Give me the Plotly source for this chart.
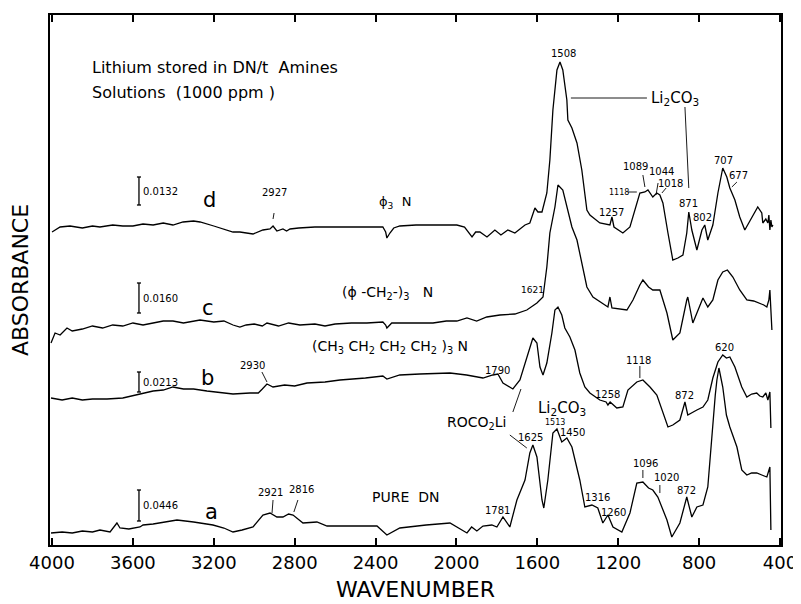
import plotly.graph_objects as go

# ---- data (y in arbitrary stacked absorbance units) ----
d_wn = [4000, 3985, 3960, 3911, 3850, 3800, 3763, 3700, 3650, 3600, 3550, 3500, 3450, 3402, 3352, 3300, 3268,
        3200, 3150, 3105, 3071, 3006, 2957, 2922, 2907, 2888, 2858, 2840, 2823, 2780, 2700, 2600, 2500, 2400,
        2364, 2350, 2344, 2329, 2310, 2280, 2200, 2100, 1998, 1960, 1935, 1923, 1905, 1884, 1849, 1810, 1780,
        1746, 1711, 1661, 1637, 1612, 1597, 1577, 1553, 1538, 1523, 1503, 1488, 1474, 1454, 1449, 1429, 1404,
        1380, 1355, 1340, 1291, 1241, 1231, 1221, 1177, 1142, 1117, 1093, 1068, 1053, 1029, 1009, 994, 979,
        954, 930, 905, 880, 861, 851, 836, 811, 786, 772, 757, 732, 707, 683, 663, 648, 623, 599, 574, 539,
        510, 490, 485, 470, 460, 455, 450, 445, 440, 435]
d_abs = [313, 315, 318, 319, 317, 319, 318, 320, 319, 319, 321, 320, 322, 320, 323, 324, 323,
         319, 316, 313, 313, 311, 315, 316, 319, 314, 316, 314, 316, 317, 318, 318, 318, 318,
         318, 313, 307, 312, 317, 319, 320, 320, 320, 318, 312, 308, 313, 313, 308, 315, 310,
         315, 312, 320, 322, 337, 333, 333, 352, 385, 435, 475, 483, 475, 445, 425, 417, 402,
         375, 335, 330, 322, 320, 328, 318, 312, 318, 335, 352, 353, 355, 348, 352, 350, 342,
         312, 285, 287, 290, 312, 333, 315, 295, 315, 320, 305, 320, 352, 377, 368, 357, 345, 328, 315, 328,
         338, 332, 322, 326, 322, 330, 315, 325, 318, 320]

c_wn = [4005, 3995, 3985, 3960, 3926, 3900, 3850, 3800, 3750, 3700, 3650, 3600, 3550, 3500, 3450, 3402, 3350,
        3268, 3200, 3150, 3105, 3071, 3040, 3000, 2960, 2937, 2880, 2830, 2774, 2700, 2650, 2600, 2520, 2443,
        2364, 2350, 2344, 2320, 2280, 2200, 2116, 2050, 1998, 1948, 1900, 1850, 1785, 1711, 1652, 1602, 1587,
        1572, 1553, 1538, 1513, 1498, 1474, 1454, 1429, 1404, 1380, 1355, 1325, 1291, 1251, 1241, 1231, 1157,
        1127, 1093, 1078, 1050, 1029, 994, 959, 930, 895, 861, 856, 831, 806, 781, 757, 732, 707, 683, 660,
        648, 633, 599, 564, 530, 500, 480, 465, 455, 450, 445, 440]
c_abs = [202, 208, 212, 210, 217, 214, 216, 219, 217, 220, 219, 222, 220, 222, 224, 224, 222,
         225, 223, 224, 220, 218, 220, 221, 219, 222, 219, 222, 220, 221, 219, 221, 222, 222,
         223, 220, 217, 222, 222, 222, 222, 224, 224, 227, 224, 228, 230, 231, 235, 242, 245,
         248, 278, 312, 338, 360, 355, 338, 318, 305, 282, 258, 248, 243, 238, 248, 237, 235,
         245, 260, 265, 258, 255, 255, 232, 205, 212, 245, 248, 222, 235, 247, 238, 245, 265, 273, 275,
         272, 268, 255, 245, 244, 242, 240, 238, 245, 255, 225, 215]

b_wn = [4005, 3950, 3900, 3850, 3800, 3728, 3650, 3580, 3500, 3450, 3402, 3350, 3300, 3234, 3150, 3105, 3021,
        2980, 2960, 2937, 2907, 2850, 2800, 2739, 2650, 2576, 2450, 2364, 2344, 2280, 2181, 2032, 1950, 1869,
        1820, 1795, 1770, 1745, 1721, 1686, 1652, 1622, 1602, 1587, 1572, 1553, 1528, 1513, 1498, 1479, 1464,
        1439, 1414, 1390, 1365, 1340, 1291, 1260, 1251, 1240, 1207, 1177, 1152, 1108, 1078, 1043, 1009, 984,
        954, 930, 895, 870, 856, 811, 781, 757, 732, 707, 683, 665, 648, 623, 589, 564, 540, 515, 500, 485,
        470, 460, 450, 445]
b_abs = [147, 145, 147, 145, 146, 146, 147, 150, 154, 155, 158, 156, 156, 154, 152, 151, 152,
         152, 156, 161, 158, 160, 159, 162, 163, 165, 167, 169, 166, 170, 171, 172, 170, 167,
         170, 171, 162, 159, 156, 165, 188, 207, 202, 178, 170, 182, 212, 235, 238, 230, 217,
         208, 195, 172, 158, 152, 145, 143, 140, 143, 137, 138, 155, 163, 165, 158, 150, 135,
         118, 120, 125, 143, 130, 135, 138, 145, 167, 183, 190, 187, 188, 178, 158, 148, 151, 152, 149, 148,
         152, 145, 153, 117]

a_wn = [4005, 3950, 3900, 3850, 3800, 3763, 3713, 3679, 3664, 3620, 3565, 3550, 3500, 3450, 3382, 3300, 3204,
        3150, 3105, 3060, 3006, 2957, 2922, 2888, 2858, 2830, 2808, 2759, 2690, 2640, 2550, 2450, 2393, 2344,
        2280, 2150, 2032, 1948, 1925, 1899, 1869, 1825, 1800, 1770, 1736, 1701, 1661, 1637, 1622, 1602, 1577,
        1568, 1548, 1523, 1503, 1479, 1454, 1429, 1390, 1365, 1330, 1301, 1276, 1251, 1226, 1182, 1142, 1108,
        1078, 1050, 1029, 1004, 959, 935, 895, 861, 836, 811, 781, 757, 745, 732, 720, 712, 702, 683, 665,
        648, 613, 589, 564, 540, 515, 490, 465, 450, 445]
a_abs = [12, 13, 12, 14, 13, 15, 13, 22, 17, 16, 18, 20, 21, 23, 25, 23, 20,
         17, 13, 15, 18, 30, 32, 28, 28, 31, 30, 22, 23, 19, 19, 19, 19, 10,
         17, 20, 22, 12, 18, 14, 19, 20, 18, 28, 18, 45, 65, 92, 100, 88, 45,
         37, 65, 112, 116, 103, 107, 98, 65, 38, 40, 37, 22, 30, 18, 13, 32, 62,
         63, 57, 55, 48, 25, 8, 22, 48, 28, 38, 40, 58, 90, 125, 150, 165, 177, 158, 130,
         118, 98, 75, 70, 72, 72, 70, 68, 78, 15]

tick_vals = [4000, 3600, 3200, 2800, 2400, 2000, 1600, 1200, 800, 400]
tick_text = ["4000", "3600", "3200", "2800", "2400", "2000", "1600", "1200", "800", "400"]

# scale bars: (wavenumber, low, high, label)
scale_bars = [(3570, 340, 368, "0.0132"), (3570, 232, 262, "0.0160"),
              (3570, 153, 173, "0.0213"), (3570, 24, 55, "0.0446")]

# peak labels: (text, wavenumber, y, size)
peak_labels = [
    ("1508", 1469, 492, 10), ("1089", 1113, 379, 10), ("1044", 984, 374, 10), ("1018", 940, 362, 10),
    ("1118", 1195, 353, 8), ("1257", 1231, 333, 10), ("871", 851, 342, 10), ("802", 781, 328, 10),
    ("707", 678, 385, 10), ("677", 604, 370, 10), ("2927", 2902, 353, 10),
    ("1621", 1622, 255, 9),
    ("2930", 3011, 180, 10), ("1790", 1795, 175, 10), ("1258", 1251, 151, 10), ("1118", 1098, 185, 10),
    ("872", 870, 150, 10), ("620", 673, 198, 10),
    ("1625", 1632, 108, 10), ("1513", 1513, 123, 8), ("1450", 1424, 113, 10), ("1316", 1301, 48, 10),
    ("1260", 1222, 33, 10), ("1096", 1063, 82, 10), ("1020", 959, 68, 10), ("872", 861, 55, 10),
    ("1781", 1795, 35, 10), ("2921", 2922, 53, 10), ("2816", 2764, 56, 10),
]

# leader lines: (wn0, y0, wn1, y1)
leaders = [
    (1434, 447, 1058, 447), (870, 438, 851, 357),
    (1078, 370, 1068, 358), (1003, 362, 1013, 350), (963, 357, 984, 352), (1152, 353, 1108, 353),
    (613, 363, 638, 358), (2902, 332, 2907, 326),
    (2962, 173, 2937, 163), (1093, 179, 1093, 167),
    (1721, 133, 1681, 156), (1736, 110, 1652, 97),
    (1078, 75, 1078, 67), (994, 60, 994, 52),
    (2907, 45, 2912, 32), (2784, 45, 2804, 33),
]

FONT = "DejaVu Sans"

fig = go.Figure()
for wn, ab in [(d_wn, d_abs), (c_wn, c_abs), (b_wn, b_abs), (a_wn, a_abs)]:
    fig.add_trace(go.Scatter(x=wn, y=ab, mode="lines", line=dict(color="black", width=1.3),
                             showlegend=False, hoverinfo="skip"))

shapes = []
for w0, y0, w1, y1 in leaders:
    shapes.append(dict(type="line", xref="x", yref="y", x0=w0, y0=y0, x1=w1, y1=y1,
                       line=dict(color="black", width=0.9)))
anns = []
for w, lo, hi, lab in scale_bars:
    shapes.append(dict(type="line", xref="x", yref="y", x0=w, y0=lo, x1=w, y1=hi,
                       line=dict(color="black", width=1.3)))
    for yy in (lo, hi):
        shapes.append(dict(type="line", xref="x", yref="y", x0=w - 10, y0=yy, x1=w + 10, y1=yy,
                           line=dict(color="black", width=1.3)))
    anns.append(dict(x=w - 12, y=(lo + hi) / 2, text=lab, xanchor="left", showarrow=False,
                     font=dict(size=10, family=FONT, color="black")))

for t, w, y, s in peak_labels:
    anns.append(dict(x=w, y=y, text=t, showarrow=False, font=dict(size=s, family=FONT, color="black")))

big = [
    ("Lithium stored in DN/t  Amines", 3812, 478, 16, "left"),
    ("Solutions  (1000 ppm )", 3812, 453, 16, "left"),
    ("Li<sub>2</sub>CO<sub>3</sub>", 920, 447, 15, "center"),
    ("d", 3219, 345, 21, "center"),
    ("ϕ<sub>3</sub>  N", 2304, 343, 13, "center"),
    ("c", 3229, 237, 21, "center"),
    ("(ϕ -CH<sub>2</sub>-)<sub>3</sub>   N", 2339, 252, 14, "center"),
    ("(CH<sub>3</sub> CH<sub>2</sub> CH<sub>2</sub> CH<sub>2</sub> )<sub>3</sub> N", 2329, 198, 14, "center"),
    ("b", 3229, 167, 21, "center"),
    ("ROCO<sub>2</sub>Li", 1899, 122, 14, "center"),
    ("Li<sub>2</sub>CO<sub>3</sub>", 1479, 137, 15, "center"),
    ("PURE  DN", 2250, 48, 14, "center"),
    ("a", 3209, 33, 21, "center"),
]
for t, w, y, s, xa in big:
    anns.append(dict(x=w, y=y, text=t, xanchor=xa, showarrow=False,
                     font=dict(size=s, family=FONT, color="black")))

# the page body adds an 8px margin, so the figure is sized to fit inside the window
fig.update_layout(
    width=793, height=596,
    margin=dict(l=42, r=20, t=7, b=59),
    paper_bgcolor="white", plot_bgcolor="white",
    font=dict(family=FONT, color="black"),
    shapes=shapes, annotations=anns,
    xaxis=dict(range=[4010, 395], tickvals=tick_vals, ticktext=tick_text, automargin=False,
               ticks="inside", ticklen=7, tickwidth=1.5, tickcolor="black",
               showline=True, linewidth=2, linecolor="black", mirror="ticks",
               showgrid=False, zeroline=False, tickfont=dict(size=18, family=FONT),
               title=dict(text="WAVENUMBER", font=dict(size=22, family=FONT), standoff=10)),
    yaxis=dict(range=[0, 530], showticklabels=False, ticks="", automargin=False,
               showline=True, linewidth=2, linecolor="black", mirror=True,
               showgrid=False, zeroline=False,
               title=dict(text="ABSORBANCE", font=dict(size=22, family=FONT), standoff=14)),
)

fig.write_html("out.html")
